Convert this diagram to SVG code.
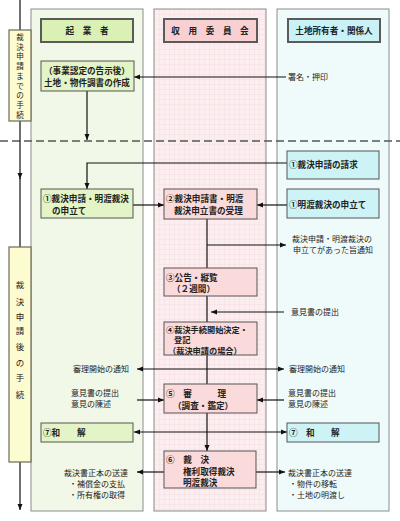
<svg xmlns="http://www.w3.org/2000/svg" width="400" height="521" viewBox="0 0 400 521">
<style>
text{font-family:"Noto Sans CJK JP","Noto Sans",sans-serif;fill:#222}
.b{font-size:8.6px;font-weight:bold}
.n{font-size:8px}
.h{font-size:8.6px;font-weight:bold}
.v{font-size:7.6px}
.col{stroke:#8c8c8c;stroke-width:1}
.hdr{stroke:#5a5a5a;stroke-width:2}
.bx{stroke:#555;stroke-width:1}
.ln{stroke:#111;stroke-width:1.2;fill:none}
.lbl{fill:#fdfbd0;stroke:#6a6a5a;stroke-width:1.2}
</style>
<defs>
<pattern id="grid" width="5" height="5" patternUnits="userSpaceOnUse">
<rect width="5" height="5" fill="#fcedef"/>
<path d="M5 0V5M0 5H5" stroke="#f1d9dd" stroke-width="0.6"/>
</pattern>
<marker id="ah" viewBox="0 0 6 6" refX="6" refY="3" markerWidth="6" markerHeight="6" markerUnits="userSpaceOnUse" orient="auto">
<path d="M0 0.5L6 3L0 5.5z" fill="#111"/>
</marker>
</defs>
<rect width="400" height="521" fill="#fff"/>

<g id="columns">
<rect x="31" y="9" width="112" height="502" fill="#f1f8e7" class="col"/>
<rect x="154" y="9" width="112" height="502" fill="url(#grid)" class="col"/>
<rect x="277" y="9" width="112" height="502" fill="#effbfb" class="col"/>
</g>

<g id="connectors">
<line x1="0" y1="141" x2="400" y2="141" stroke="#555" stroke-width="1.6" stroke-dasharray="8,4"/>
<line x1="20" y1="0" x2="20" y2="30" class="ln"/>
<line x1="20" y1="121" x2="20" y2="179" class="ln" marker-end="url(#ah)"/>
<line x1="20" y1="178" x2="20" y2="247" class="ln"/>
<line x1="20" y1="462" x2="20" y2="510" class="ln" marker-end="url(#ah)"/>
<line x1="286" y1="77" x2="134" y2="77" class="ln" marker-end="url(#ah)"/>
<line x1="87" y1="91" x2="87" y2="140" class="ln" marker-end="url(#ah)"/>
<polyline points="287,163 87,163 87,189" class="ln" marker-end="url(#ah)"/>
<line x1="133" y1="205" x2="164" y2="205" class="ln" marker-end="url(#ah)"/>
<line x1="287" y1="205" x2="257" y2="205" class="ln" marker-end="url(#ah)"/>
<line x1="207" y1="219" x2="207" y2="268" class="ln"/>
<line x1="207" y1="245" x2="286" y2="245" class="ln" marker-end="url(#ah)"/>
<line x1="207" y1="296" x2="207" y2="322" class="ln"/>
<line x1="284" y1="312" x2="211" y2="312" class="ln" marker-end="url(#ah)"/>
<line x1="207" y1="355" x2="207" y2="384" class="ln"/>
<line x1="207" y1="369" x2="137" y2="369" class="ln" marker-end="url(#ah)"/>
<line x1="207" y1="369" x2="284" y2="369" class="ln" marker-end="url(#ah)"/>
<line x1="137" y1="400" x2="164" y2="400" class="ln" marker-end="url(#ah)"/>
<line x1="284" y1="400" x2="257" y2="400" class="ln" marker-end="url(#ah)"/>
<line x1="207" y1="413" x2="207" y2="451" class="ln" marker-end="url(#ah)"/>
<line x1="207" y1="432" x2="134" y2="432" class="ln" marker-end="url(#ah)"/>
<line x1="207" y1="432" x2="287" y2="432" class="ln" marker-end="url(#ah)"/>
<line x1="164" y1="472" x2="137" y2="472" class="ln" marker-end="url(#ah)"/>
<line x1="256" y1="472" x2="285" y2="472" class="ln" marker-end="url(#ah)"/>
</g>

<g id="label-before">
<rect x="9" y="30" width="22" height="91" class="lbl"/>
<text class="v" text-anchor="middle"><tspan x="20" y="40">裁</tspan><tspan x="20" y="49.7">決</tspan><tspan x="20" y="59.4">申</tspan><tspan x="20" y="69.1">請</tspan><tspan x="20" y="78.8">ま</tspan><tspan x="20" y="88.5">で</tspan><tspan x="20" y="98.2">の</tspan><tspan x="20" y="107.9">手</tspan><tspan x="20" y="117.6">続</tspan></text>
</g>
<g id="label-after">
<rect x="9" y="247" width="22" height="215" class="lbl"/>
<text class="n" text-anchor="middle" style="font-size:8.5px"><tspan x="20" y="288">裁</tspan><tspan x="20" y="305">決</tspan><tspan x="20" y="320">申</tspan><tspan x="20" y="334">請</tspan><tspan x="20" y="350">後</tspan><tspan x="20" y="366">の</tspan><tspan x="20" y="381">手</tspan><tspan x="20" y="398">続</tspan></text>
</g>

<g id="hdr-kigyo">
<rect x="41" y="19" width="92" height="23" fill="#daf0b4" class="hdr"/>
<text class="h" x="87" y="34" text-anchor="middle">起　業　者</text>
</g>
<g id="hdr-iinkai">
<rect x="164" y="19" width="93" height="23" fill="#f8d0d2" class="hdr"/>
<text class="h" x="210" y="34" text-anchor="middle">収　用　委　員　会</text>
</g>
<g id="hdr-tochi">
<rect x="288" y="19" width="92" height="23" fill="#c9f1f6" class="hdr"/>
<text class="h" x="334" y="34" text-anchor="middle">土地所有者・関係人</text>
</g>

<g id="n-chosho">
<rect x="41" y="61" width="93" height="30" fill="#e3f4c6" class="bx"/>
<text class="b" x="87" y="74" text-anchor="middle">（事業認定の告示後）</text>
<text class="b" x="87" y="86" text-anchor="middle">土地・物件調書の作成</text>
</g>
<g id="n-shomei"><text class="n" x="288" y="80">署名・押印</text></g>

<g id="n-seikyu">
<rect x="287" y="151" width="92" height="28" fill="#cdf3f7" class="bx"/>
<text class="b" x="289" y="168">①裁決申請の請求</text>
</g>
<g id="n-kigyo1">
<rect x="41" y="189" width="92" height="29" fill="#e3f4c6" class="bx"/>
<text class="b" x="43" y="202">①裁決申請・明渡裁決</text>
<text class="b" x="52" y="214">の申立て</text>
</g>
<g id="n-tochi1">
<rect x="287" y="189" width="92" height="29" fill="#cdf3f7" class="bx"/>
<text class="b" x="289" y="208">①明渡裁決の申立て</text>
</g>
<g id="n-juri">
<rect x="164" y="189" width="93" height="30" fill="#fadadb" class="bx"/>
<text class="b" x="166" y="202">②裁決申請書・明渡</text>
<text class="b" x="174" y="214">裁決申立書の受理</text>
</g>
<g id="n-tsuchi1">
<text class="n" x="292" y="242">裁決申請・明渡裁決の</text>
<text class="n" x="293" y="253">申立てがあった旨通知</text>
</g>
<g id="n-kokoku">
<rect x="164" y="268" width="93" height="28" fill="#fadadb" class="bx"/>
<text class="b" x="166" y="281">③公告・縦覧</text>
<text class="b" x="172" y="292">（２週間）</text>
</g>
<g id="n-ikensho1"><text class="n" x="291" y="315">意見書の提出</text></g>
<g id="n-kaishi">
<rect x="164" y="322" width="93" height="33" fill="#fadadb" class="bx"/>
<text class="b" x="166" y="332.5" style="font-size:8.2px">④裁決手続開始決定・</text>
<text class="b" x="174" y="343" style="font-size:8.2px">登記</text>
<text class="b" x="168" y="353.5" style="font-size:8.2px">（裁決申請の場合）</text>
</g>
<g id="n-shinri-tsuchi-l"><text class="n" x="73" y="372">審理開始の通知</text></g>
<g id="n-shinri-tsuchi-r"><text class="n" x="289" y="372">審理開始の通知</text></g>
<g id="n-iken-l">
<text class="n" x="71" y="396">意見書の提出</text>
<text class="n" x="71" y="407">意見の陳述</text>
</g>
<g id="n-iken-r">
<text class="n" x="288" y="396">意見書の提出</text>
<text class="n" x="288" y="407">意見の陳述</text>
</g>
<g id="n-shinri">
<rect x="164" y="384" width="93" height="29" fill="#fadadb" class="bx"/>
<text class="b" x="166" y="397">⑤　審　　　理</text>
<text class="b" x="173" y="409">（調査・鑑定）</text>
</g>
<g id="n-wakai-l">
<rect x="41" y="423" width="92" height="19" fill="#e3f4c6" class="bx"/>
<text class="b" x="43" y="436">⑦和</text>
<text class="b" x="77" y="436">解</text>
</g>
<g id="n-wakai-r">
<rect x="287" y="423" width="92" height="19" fill="#cdf3f7" class="bx"/>
<text class="b" x="289" y="436">⑦</text>
<text class="b" x="306" y="436">和</text>
<text class="b" x="331" y="436">解</text>
</g>
<g id="n-saiketsu">
<rect x="164" y="451" width="92" height="37" fill="#fadadb" class="bx"/>
<text class="b" x="166" y="463">⑥　裁　決</text>
<text class="b" x="183" y="475">権利取得裁決</text>
<text class="b" x="183" y="486">明渡裁決</text>
</g>
<g id="n-sotatsu-l">
<text class="n" x="64" y="476">裁決書正本の送達</text>
<text class="n" x="69" y="487">・補償金の支払</text>
<text class="n" x="69" y="497.5">・所有権の取得</text>
</g>
<g id="n-sotatsu-r">
<text class="n" x="288" y="476">裁決書正本の送達</text>
<text class="n" x="289" y="487">・物件の移転</text>
<text class="n" x="289" y="497.5">・土地の明渡し</text>
</g>
</svg>
